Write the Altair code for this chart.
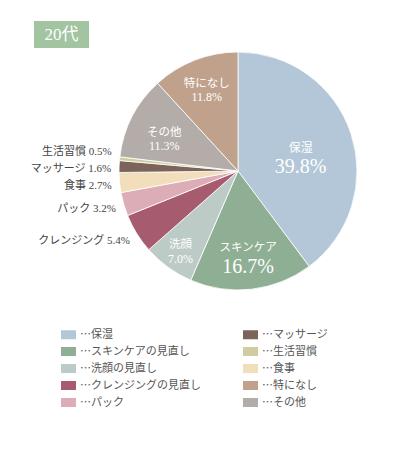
import altair as alt
import pandas as pd

# ---- data ----
title_text = "20代"
categories = ["保湿", "スキンケア", "洗顔", "クレンジング", "パック", "食事", "マッサージ", "生活習慣", "その他", "特になし"]
values = [39.8, 16.7, 7.0, 5.4, 3.2, 2.7, 1.6, 0.5, 11.3, 11.8]
legend_labels = ["…保湿", "…スキンケアの見直し", "…洗顔の見直し", "…クレンジングの見直し", "…パック",
                 "…食事", "…マッサージ", "…生活習慣", "…その他", "…特になし"]
# legend reading order (left column, then right column)
legend_left = ["…保湿", "…スキンケアの見直し", "…洗顔の見直し", "…クレンジングの見直し", "…パック"]
legend_right = ["…マッサージ", "…生活習慣", "…食事", "…特になし", "…その他"]
colors = {
    "…保湿": "#b3c7d8",
    "…スキンケアの見直し": "#8faf95",
    "…洗顔の見直し": "#bccbc5",
    "…クレンジングの見直し": "#a65b6f",
    "…パック": "#dcadb7",
    "…マッサージ": "#7d645a",
    "…生活習慣": "#cfcda0",
    "…食事": "#f2deba",
    "…特になし": "#bfa18c",
    "…その他": "#b3aca8",
}

df = pd.DataFrame({
    "cat": categories,
    "v": values,
    "legend": legend_labels,
    "idx": list(range(len(categories))),
})

domain = legend_left + legend_right
rng = [colors[d] for d in domain]

CX, CY = 230, 163
JP = "Noto Sans CJK JP"
SERIF = "Liberation Serif, Noto Sans CJK JP"

base = alt.Chart(df).transform_calculate(
    pct="format(datum.v, '.1f') + '%'",
    outer="datum.cat + ' ' + format(datum.v, '.1f') + '%'",
).encode(
    theta=alt.Theta("v:Q", stack=True),
    order=alt.Order("idx:Q", sort="ascending"),
    x=alt.value(CX),
    y=alt.value(CY),
)

pie = base.mark_arc(outerRadius=119, stroke="white", strokeWidth=0.8).encode(
    color=alt.Color(
        "legend:N",
        scale=alt.Scale(domain=domain, range=rng),
        legend=alt.Legend(
            orient="none", legendX=53, legendY=319, columns=2, columnPadding=42,
            rowPadding=4, title=None, labelFont=JP, labelFontSize=11,
            labelColor="#555555", labelLimit=0, labelOffset=4,
            symbolType="M-1,-0.6H1V0.6H-1Z", symbolSize=225,
            symbolStrokeWidth=0, symbolOpacity=1, padding=0,
        ),
    )
)


def inner(name, radius, shift, sep, name_size, pct_size):
    cond = f"datum.cat == '{name}'"
    n = base.mark_text(radius=radius, fontSize=name_size, dy=shift - sep / 2,
                       color="white", font=JP).encode(
        text=alt.condition(cond, alt.Text("cat:N"), alt.value(""))
    )
    p = base.mark_text(radius=radius, fontSize=pct_size, dy=shift + sep / 2,
                       color="white", font=SERIF).encode(
        text=alt.condition(cond, alt.Text("pct:N"), alt.value(""))
    )
    return [n, p]


layers = [pie]
layers += inner("保湿", 66, 7, 19, 12, 20)
layers += inner("スキンケア", 87, 0.5, 19, 11.5, 20)
layers += inner("洗顔", 98, 2, 14, 11.5, 12)
layers += inner("その他", 83, 6, 13, 11.5, 12)
layers += inner("特になし", 86, 0, 13, 11.5, 12)

outer_main = base.mark_text(radius=127, dy=3, align="right", baseline="middle", fontSize=11,
                            color="#444444", font=SERIF).encode(
    text=alt.condition("datum.v < 6 && datum.v >= 1", alt.Text("outer:N"), alt.value(""))
)
outer_top = base.mark_text(radius=127, dy=-6, align="right", baseline="middle", fontSize=11,
                           color="#444444", font=SERIF).encode(
    text=alt.condition("datum.v < 1", alt.Text("outer:N"), alt.value(""))
)
layers += [outer_main, outer_top]

tdf = pd.DataFrame({"t": [title_text]})
title_box = alt.Chart(tdf).mark_rect(color="#a3c4a0").encode(
    x=alt.value(26), x2=alt.value(81), y=alt.value(13), y2=alt.value(40)
)
title_txt = alt.Chart(tdf).mark_text(color="white", fontSize=17, font=SERIF,
                                     align="center", baseline="middle").encode(
    x=alt.value(53.5), y=alt.value(27), text="t:N"
)

chart = alt.layer(*layers, title_box, title_txt).properties(
    width=377, height=434, padding=0, autosize="none", background="white"
).configure_view(stroke=None)

chart.save("out.html", embed_options={"renderer": "svg", "actions": False})
